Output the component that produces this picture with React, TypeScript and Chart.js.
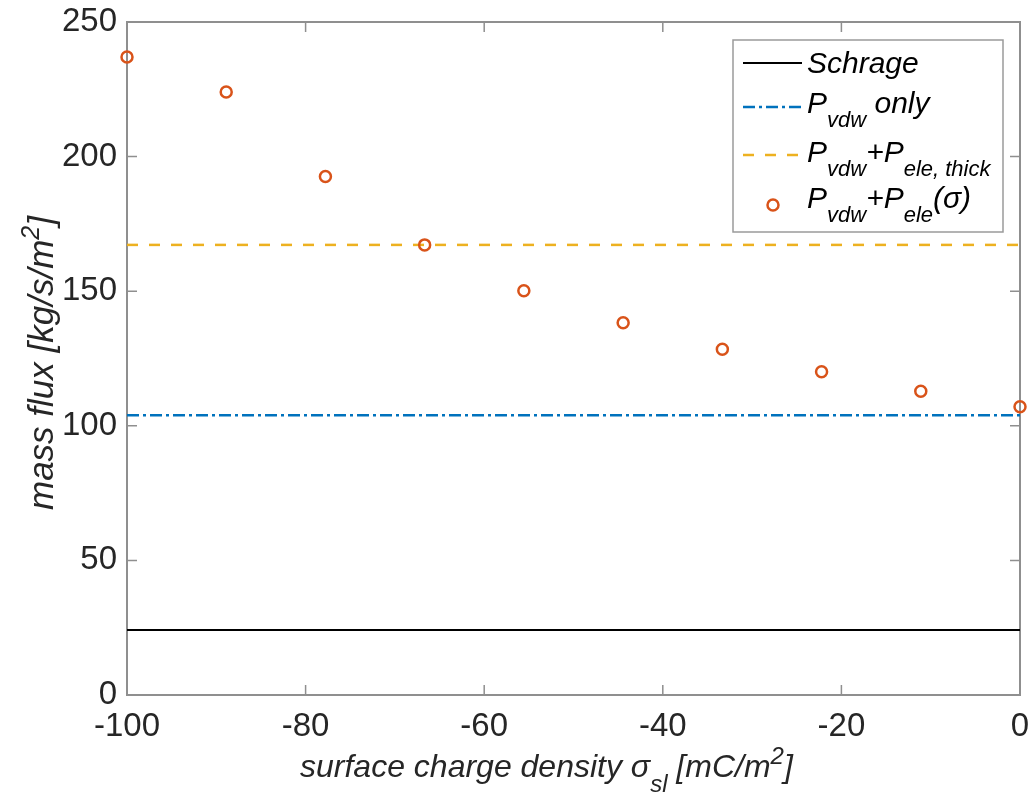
import React, { useEffect, useRef } from 'react';
import { Chart, registerables } from 'chart.js';

Chart.register(...registerables);

// ---- data ----
const sigma = [-100, -88.89, -77.78, -66.67, -55.56, -44.44, -33.33, -22.22, -11.11, 0];
const massFlux = [237.0, 224.0, 192.6, 167.2, 150.2, 138.3, 128.4, 120.1, 112.8, 107.1];
const schrage = 24.1;
const pvdwOnly = 103.9;
const pvdwEleThick = 167.2;
const xRange = [-100, 0];
const yRange = [0, 250];
const xStep = 20;
const yStep = 50;

const FAMILY = '"Liberation Sans", Arial, Helvetica, sans-serif';
const TEXT = '#262626';
const AXIS = '#8f8f8f';
const C_BLUE = '#0072BD';
const C_YELLOW = '#EDB120';
const C_RED = '#D95319';

type Seg = { t: string; k?: 'sub' | 'sup' };

function drawRich(
  ctx: CanvasRenderingContext2D,
  segs: Seg[],
  x: number,
  y: number,
  main: number,
  small: number,
  subDy: number,
  supDy: number
) {
  let cx = x;
  ctx.textAlign = 'left';
  ctx.textBaseline = 'alphabetic';
  for (const s of segs) {
    const size = s.k ? small : main;
    ctx.font = `italic ${size}px ${FAMILY}`;
    const dy = s.k === 'sub' ? subDy : s.k === 'sup' ? supDy : 0;
    ctx.fillText(s.t, cx, y + dy);
    cx += ctx.measureText(s.t).width;
  }
}

const frameTicksPlugin = {
  id: 'frameTicks',
  beforeDatasetsDraw(chart: any) {
    const { ctx, chartArea } = chart;
    const { left, right, top, bottom } = chartArea;
    const xs = chart.scales.x;
    const ys = chart.scales.y;
    ctx.save();
    ctx.strokeStyle = AXIS;
    ctx.lineWidth = 1.5;
    const L = 10;
    ctx.beginPath();
    xs.ticks.forEach((t: any) => {
      const px = xs.getPixelForValue(t.value);
      ctx.moveTo(px, bottom);
      ctx.lineTo(px, bottom - L);
      ctx.moveTo(px, top);
      ctx.lineTo(px, top + L);
    });
    ys.ticks.forEach((t: any) => {
      const py = ys.getPixelForValue(t.value);
      ctx.moveTo(left, py);
      ctx.lineTo(left + L, py);
      ctx.moveTo(right, py);
      ctx.lineTo(right - L, py);
    });
    ctx.stroke();
    ctx.lineWidth = 2;
    ctx.strokeRect(left, top, right - left, bottom - top);
    ctx.restore();
  },
};

const titlesLegendPlugin = {
  id: 'titlesLegend',
  afterDraw(chart: any) {
    const { ctx } = chart;
    ctx.save();
    ctx.fillStyle = TEXT;
    // x-axis title
    drawRich(
      ctx,
      [{ t: 'surface charge density σ' }, { t: 'sl', k: 'sub' }, { t: ' [mC/m' }, { t: '2', k: 'sup' }, { t: ']' }],
      300,
      777,
      32,
      24,
      15,
      -13
    );
    // y-axis title
    ctx.save();
    ctx.translate(53, 510);
    ctx.rotate(-Math.PI / 2);
    drawRich(ctx, [{ t: 'mass flux [kg/s/m' }, { t: '2', k: 'sup' }, { t: ']' }], 0, 0, 35, 25, 15, -14);
    ctx.restore();

    // legend
    const bx = 733, by = 40, bw = 270, bh = 192;
    ctx.fillStyle = '#ffffff';
    ctx.fillRect(bx, by, bw, bh);
    ctx.strokeStyle = '#9a9a9a';
    ctx.lineWidth = 1.5;
    ctx.strokeRect(bx, by, bw, bh);

    const x0 = 743, x1 = 802, tx = 807;
    // row 1
    ctx.strokeStyle = '#000';
    ctx.lineWidth = 2;
    ctx.setLineDash([]);
    ctx.beginPath(); ctx.moveTo(x0, 63); ctx.lineTo(x1, 63); ctx.stroke();
    // row 2
    ctx.strokeStyle = C_BLUE;
    ctx.lineWidth = 2.5;
    ctx.setLineDash([12, 4, 3, 4]);
    ctx.beginPath(); ctx.moveTo(x0, 107); ctx.lineTo(x1, 107); ctx.stroke();
    // row 3
    ctx.strokeStyle = C_YELLOW;
    ctx.setLineDash([11, 11]);
    ctx.beginPath(); ctx.moveTo(x0, 155); ctx.lineTo(x1 + 2, 155); ctx.stroke();
    ctx.setLineDash([]);
    // row 4 marker
    ctx.strokeStyle = C_RED;
    ctx.lineWidth = 2.5;
    ctx.beginPath(); ctx.arc(773, 205, 5.5, 0, Math.PI * 2); ctx.stroke();

    ctx.fillStyle = '#000';
    drawRich(ctx, [{ t: 'Schrage' }], tx, 73, 30, 22, 14, -12);
    drawRich(ctx, [{ t: 'P' }, { t: 'vdw', k: 'sub' }, { t: ' only' }], tx, 113, 30, 22, 14, -12);
    drawRich(ctx, [{ t: 'P' }, { t: 'vdw', k: 'sub' }, { t: '+P' }, { t: 'ele, thick', k: 'sub' }], tx, 162, 30, 22, 14, -12);
    drawRich(ctx, [{ t: 'P' }, { t: 'vdw', k: 'sub' }, { t: '+P' }, { t: 'ele', k: 'sub' }, { t: '(σ)' }], tx, 208, 30, 22, 14, -12);
    ctx.restore();
  },
};

function hline(v: number) {
  return [
    { x: xRange[0], y: v },
    { x: xRange[1], y: v },
  ];
}

export default function App() {
  const ref = useRef<HTMLCanvasElement | null>(null);

  useEffect(() => {
    if (!ref.current) return;
    const chart = new Chart(ref.current, {
      type: 'scatter',
      data: {
        datasets: [
          {
            label: 'Pvdw+Pele(σ)',
            data: sigma.map((s, i) => ({ x: s, y: massFlux[i] })),
            showLine: false,
            pointStyle: 'circle',
            pointRadius: 5.5,
            pointBorderWidth: 2.5,
            pointBorderColor: C_RED,
            pointBackgroundColor: 'rgba(255,255,255,0)',
            clip: false as any,
            order: 0,
          },
          {
            label: 'Schrage',
            data: hline(schrage),
            showLine: true,
            borderColor: '#000000',
            borderWidth: 2,
            pointRadius: 0,
            order: 1,
          },
          {
            label: 'Pvdw only',
            data: hline(pvdwOnly),
            showLine: true,
            borderColor: C_BLUE,
            borderWidth: 2.5,
            borderDash: [12, 4, 3, 4],
            pointRadius: 0,
            order: 2,
          },
          {
            label: 'Pvdw+Pele,thick',
            data: hline(pvdwEleThick),
            showLine: true,
            borderColor: C_YELLOW,
            borderWidth: 2.5,
            borderDash: [11, 11],
            pointRadius: 0,
            order: 3,
          },
        ],
      },
      options: {
        animation: false,
        responsive: true,
        maintainAspectRatio: false,
        layout: { padding: { top: 22, right: 12, left: 0, bottom: 0 } },
        plugins: {
          legend: { display: false },
          tooltip: { enabled: false },
        },
        scales: {
          x: {
            type: 'linear',
            min: xRange[0],
            max: xRange[1],
            ticks: {
              stepSize: xStep,
              font: { size: 33, family: FAMILY },
              color: TEXT,
              padding: 12,
              maxRotation: 0,
              autoSkip: false,
            },
            grid: { display: false, drawTicks: false },
            border: { display: false },
            afterFit: (s: any) => {
              s.height = 113;
              s.paddingLeft = 0;
              s.paddingRight = 0;
            },
          },
          y: {
            type: 'linear',
            min: yRange[0],
            max: yRange[1],
            ticks: {
              stepSize: yStep,
              font: { size: 33, family: FAMILY },
              color: TEXT,
              padding: 10,
              autoSkip: false,
            },
            grid: { display: false, drawTicks: false },
            border: { display: false },
            afterFit: (s: any) => {
              s.width = 127;
              s.paddingTop = 0;
              s.paddingBottom = 0;
            },
          },
        },
      },
      plugins: [frameTicksPlugin, titlesLegendPlugin],
    });
    return () => chart.destroy();
  }, []);

  return (
    <div style={{ position: 'absolute', left: 0, top: 0, width: 1032, height: 808, background: '#fff' }}>
      <canvas ref={ref} />
    </div>
  );
}
